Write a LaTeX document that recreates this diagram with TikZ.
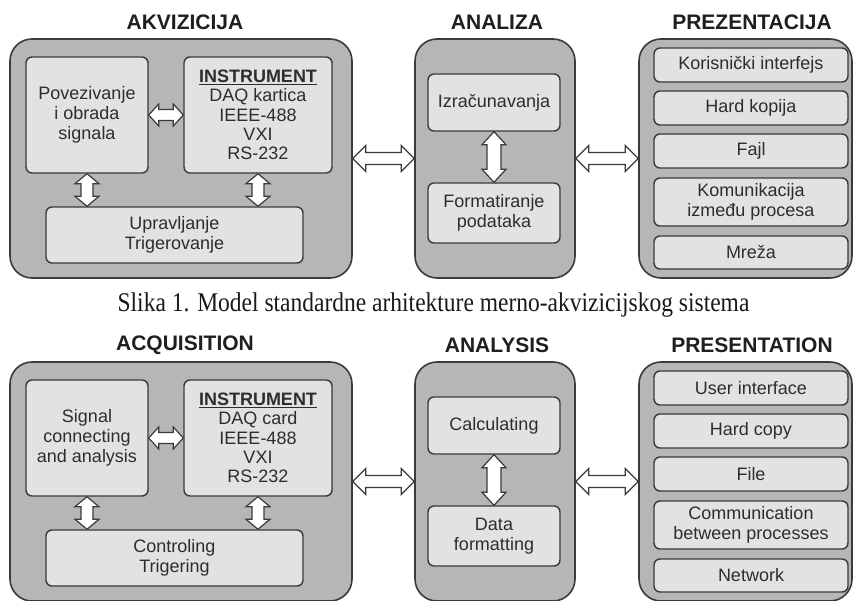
\documentclass[tikz,border=0pt]{standalone}
\usepackage{fontspec}
\setmainfont{Liberation Sans}
\newfontfamily\capfont{Liberation Serif}
\usetikzlibrary{calc}
\definecolor{outerfill}{RGB}{182,182,182}
\definecolor{innerfill}{RGB}{226,226,226}
\definecolor{linec}{RGB}{58,58,58}
\definecolor{textc}{RGB}{45,45,45}
\newcommand{\HDArrow}[5]{%
  \draw[dblarrow] let \p1=#1, \p2=#2 in
   (\x1,\y1) -- ({\x1+#3},{\y1+#4}) -- ({\x1+#3},{\y1+#5}) -- ({\x2-#3},{\y1+#5}) -- ({\x2-#3},{\y1+#4}) -- (\x2,\y1)
   -- ({\x2-#3},{\y1-#4}) -- ({\x2-#3},{\y1-#5}) -- ({\x1+#3},{\y1-#5}) -- ({\x1+#3},{\y1-#4}) -- cycle;}
\newcommand{\VDArrow}[5]{%
  \draw[dblarrow] let \p1=#1, \p2=#2 in
   (\x1,\y1) -- ({\x1+#4},{\y1-#3}) -- ({\x1+#5},{\y1-#3}) -- ({\x1+#5},{\y2+#3}) -- ({\x1+#4},{\y2+#3}) -- (\x1,\y2)
   -- ({\x1-#4},{\y2+#3}) -- ({\x1-#5},{\y2+#3}) -- ({\x1-#5},{\y1-#3}) -- ({\x1-#4},{\y1-#3}) -- cycle;}
\begin{document}
\begin{tikzpicture}[x=1pt,y=-1pt,
  outerbox/.style={draw=linec,line width=1.6pt,fill=outerfill,rounded corners=22pt,inner sep=0pt},
  innerbox/.style={draw=linec,line width=1.4pt,fill=innerfill,rounded corners=6pt,inner sep=0pt,
     align=center,text=textc,font=\fontsize{18}{20}\selectfont},
  titletext/.style={font=\fontsize{21}{24}\selectfont\bfseries,text=black!88,inner sep=0pt},
  dblarrow/.style={draw=linec,line width=1.2pt,fill=white,line join=miter}]
\useasboundingbox (0,0) rectangle (854,601);
\fill[white] (0,0) rectangle (854,601);

% ---------------- top panel ----------------
\node[titletext] (tA) at (185,22) {AKVIZICIJA};
\node[titletext] (tB) at (497,22) {ANALIZA};
\node[titletext] (tC) at (752,22) {PREZENTACIJA};

\node[outerbox,minimum width=342pt,minimum height=239pt] (oA) at (181,158.5) {};
\node[outerbox,minimum width=160pt,minimum height=239pt] (oB) at (495,158.5) {};
\node[outerbox,minimum width=213pt,minimum height=239pt] (oC) at (745.5,158.5) {};

\node[innerbox,minimum width=122pt,minimum height=116pt] (pov) at (87,115) {Povezivanje\\i obrada\\signala};
\node[innerbox,minimum width=148pt,minimum height=116pt,font=\fontsize{18}{19.3}\selectfont] (inst) at (258,115)
  {\underline{\textbf{INSTRUMENT}}\\DAQ kartica\\IEEE-488\\VXI\\RS-232};
\node[innerbox,minimum width=257pt,minimum height=56pt] (upr) at (174.5,235) {Upravljanje\\Trigerovanje};

\node[innerbox,minimum width=132pt,minimum height=57pt] (izr) at (494,102.5) {Izračunavanja};
\node[innerbox,minimum width=132pt,minimum height=60pt] (frm) at (494,213) {Formatiranje\\podataka};

\node[innerbox,minimum width=194pt,minimum height=34pt] (p1) at (751,65) {Korisnički interfejs};
\node[innerbox,minimum width=194pt,minimum height=34pt] (p2) at (751,108) {Hard kopija};
\node[innerbox,minimum width=194pt,minimum height=34pt] (p3) at (751,151) {Fajl};
\node[innerbox,minimum width=194pt,minimum height=48pt] (p4) at (751,202) {Komunikacija\\između procesa};
\node[innerbox,minimum width=194pt,minimum height=33pt] (p5) at (751,252.5) {Mreža};

\HDArrow{(pov.east)}{(inst.west)}{10pt}{11pt}{5.5pt}
\VDArrow{(pov.south)}{(upr.north)}{10pt}{12pt}{6pt}
\VDArrow{(inst.south)}{(upr.north)}{10pt}{12pt}{6pt}
\VDArrow{(izr.south)}{(frm.north)}{13pt}{12pt}{7pt}
\HDArrow{(oA.east)}{(oB.west)}{13pt}{13pt}{6pt}
\HDArrow{(oB.east)}{(oC.west)}{13pt}{13pt}{6pt}

\node[font=\capfont\fontsize{23.5}{26}\selectfont,text=black!90,inner sep=0pt,anchor=base] (cap) at (433.5,312)
  {\scalebox{1}[1.15]{Slika 1. Model standardne arhitekture merno-akvizicijskog sistema}};

% ---------------- bottom panel ----------------
\begin{scope}[yshift=-323pt]
\node[titletext] (tA2) at (185,22) {ACQUISITION};
\node[titletext] (tB2) at (497,22) {ANALYSIS};
\node[titletext] (tC2) at (752,22) {PRESENTATION};

\node[outerbox,minimum width=342pt,minimum height=239pt] (oA2) at (181,158.5) {};
\node[outerbox,minimum width=160pt,minimum height=239pt] (oB2) at (495,158.5) {};
\node[outerbox,minimum width=213pt,minimum height=239pt] (oC2) at (745.5,158.5) {};

\node[innerbox,minimum width=122pt,minimum height=116pt] (sig) at (87,115) {Signal\\connecting\\and analysis};
\node[innerbox,minimum width=148pt,minimum height=116pt,font=\fontsize{18}{19.3}\selectfont] (inst2) at (258,115)
  {\underline{\textbf{INSTRUMENT}}\\DAQ card\\IEEE-488\\VXI\\RS-232};
\node[innerbox,minimum width=257pt,minimum height=56pt] (ctl) at (174.5,235) {Controling\\Trigering};

\node[innerbox,minimum width=132pt,minimum height=57pt] (calc) at (494,102.5) {Calculating};
\node[innerbox,minimum width=132pt,minimum height=60pt] (dfm) at (494,213) {Data\\formatting};

\node[innerbox,minimum width=194pt,minimum height=34pt] (q1) at (751,65) {User interface};
\node[innerbox,minimum width=194pt,minimum height=34pt] (q2) at (751,108) {Hard copy};
\node[innerbox,minimum width=194pt,minimum height=34pt] (q3) at (751,151) {File};
\node[innerbox,minimum width=194pt,minimum height=48pt] (q4) at (751,202) {Communication\\between processes};
\node[innerbox,minimum width=194pt,minimum height=33pt] (q5) at (751,252.5) {Network};

\HDArrow{(sig.east)}{(inst2.west)}{10pt}{11pt}{5.5pt}
\VDArrow{(sig.south)}{(ctl.north)}{10pt}{12pt}{6pt}
\VDArrow{(inst2.south)}{(ctl.north)}{10pt}{12pt}{6pt}
\VDArrow{(calc.south)}{(dfm.north)}{13pt}{12pt}{7pt}
\HDArrow{(oA2.east)}{(oB2.west)}{13pt}{13pt}{6pt}
\HDArrow{(oB2.east)}{(oC2.west)}{13pt}{13pt}{6pt}
\end{scope}
\end{tikzpicture}
\end{document}
